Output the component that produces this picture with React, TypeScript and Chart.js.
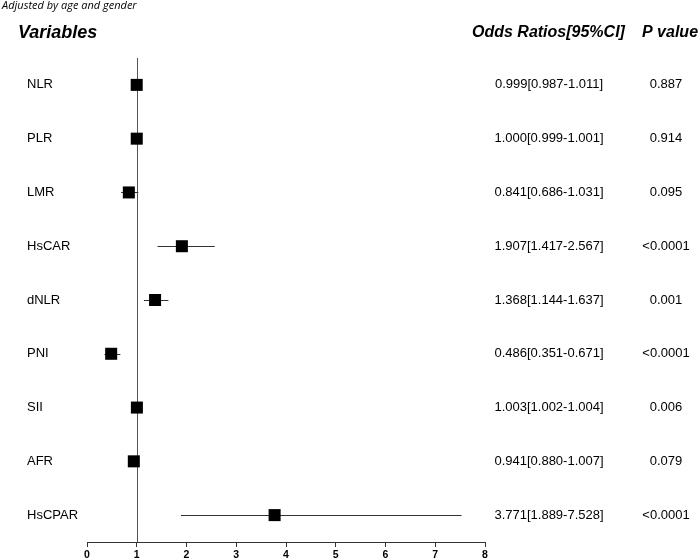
import React, { useEffect, useRef } from "react";
import { Chart, registerables } from "chart.js";

Chart.register(...registerables);

const variables = ["NLR", "PLR", "LMR", "HsCAR", "dNLR", "PNI", "SII", "AFR", "HsCPAR"];
const oddsRatios = [0.999, 1.0, 0.841, 1.907, 1.368, 0.486, 1.003, 0.941, 3.771];
const lowerCI = [0.987, 0.999, 0.686, 1.417, 1.144, 0.351, 1.002, 0.88, 1.889];
const upperCI = [1.011, 1.001, 1.031, 2.567, 1.637, 0.671, 1.004, 1.007, 7.528];
const pValues = ["0.887", "0.914", "0.095", "<0.0001", "0.001", "<0.0001", "0.006", "0.079", "<0.0001"];
const xTicks = [0, 1, 2, 3, 4, 5, 6, 7, 8];
const refValue = 1;
const subtitle = "Adjusted by age and gender";
const headerVar = "Variables";
const headerOR = "Odds Ratios[95%CI]";
const headerP = "P value";

const forestPlugin = {
  id: "forest",
  beforeDatasetsDraw(chart: any) {
    const { ctx, chartArea, scales } = chart;
    const xs = scales.x;
    const ys = scales.y;
    ctx.save();
    const rx = Math.round(xs.getPixelForValue(refValue)) + 0.5;
    ctx.strokeStyle = "#555";
    ctx.lineWidth = 1;
    ctx.beginPath();
    ctx.moveTo(rx, chartArea.top);
    ctx.lineTo(rx, chartArea.bottom);
    ctx.stroke();
    ctx.strokeStyle = "#333";
    for (let i = 0; i < variables.length; i++) {
      const y = Math.round(ys.getPixelForValue(i + 1)) + 0.5;
      ctx.beginPath();
      ctx.moveTo(xs.getPixelForValue(lowerCI[i]), y);
      ctx.lineTo(xs.getPixelForValue(upperCI[i]), y);
      ctx.stroke();
    }
    ctx.restore();
  },
  afterDraw(chart: any) {
    const { ctx, scales } = chart;
    const ys = scales.y;
    ctx.save();
    ctx.fillStyle = "#000";
    ctx.textBaseline = "middle";
    ctx.font = "italic 11px 'Open Sans'";
    ctx.textAlign = "left";
    ctx.fillText(subtitle, 2, 6);
    ctx.font = "italic bold 18px 'Liberation Sans', Arial";
    ctx.fillText(headerVar, 18, 33);
    ctx.font = "italic bold 16px 'Liberation Sans', Arial";
    ctx.fillText(headerOR, 472, 33);
    ctx.fillText(headerP, 642, 33);
    ctx.font = "13px 'Liberation Sans', Arial";
    for (let i = 0; i < variables.length; i++) {
      const y = ys.getPixelForValue(i + 1);
      ctx.textAlign = "left";
      ctx.fillText(variables[i], 27, y);
      ctx.textAlign = "center";
      const txt = oddsRatios[i].toFixed(3) + "[" + lowerCI[i].toFixed(3) + "-" + upperCI[i].toFixed(3) + "]";
      ctx.fillText(txt, 549, y);
      ctx.fillText(pValues[i], 666, y);
    }
    ctx.restore();
  },
};

export default function App() {
  const ref = useRef<HTMLCanvasElement | null>(null);
  useEffect(() => {
    if (!ref.current) return;
    const chart = new Chart(ref.current, {
      type: "scatter",
      data: {
        datasets: [
          {
            data: oddsRatios.map((v, i) => ({ x: v, y: i + 1 })),
            pointStyle: "rect",
            pointRadius: 8.5,
            backgroundColor: "#000",
            borderColor: "#000",
            borderWidth: 0,
          },
        ],
      },
      options: {
        responsive: false,
        animation: false,
        events: [],
        layout: { padding: { left: 87, right: 215, top: 58, bottom: 0 } },
        plugins: { legend: { display: false }, tooltip: { enabled: false } },
        scales: {
          x: {
            type: "linear",
            min: 0,
            max: 8,
            afterBuildTicks(scale: any) {
              scale.ticks = xTicks.map((v) => ({ value: v }));
            },
            afterFit(scale: any) {
              scale.height = 18;
            },
            ticks: {
              color: "#000",
              font: { family: "'Liberation Sans', Arial", size: 10.5, weight: "bold" },
              padding: 2,
            },
            grid: {
              display: true,
              drawOnChartArea: false,
              drawTicks: true,
              tickLength: 5,
              color: "#333",
            },
            border: { display: true, color: "#333", width: 1 },
          },
          y: {
            type: "linear",
            min: 0.5,
            max: 9.5,
            reverse: true,
            display: false,
          },
        },
      },
      plugins: [forestPlugin],
    });
    return () => chart.destroy();
  }, []);
  return (
    <div style={{ position: "absolute", left: 0, top: 0, width: 700, height: 560, background: "#fff" }}>
      <canvas ref={ref} width={700} height={560} />
    </div>
  );
}
